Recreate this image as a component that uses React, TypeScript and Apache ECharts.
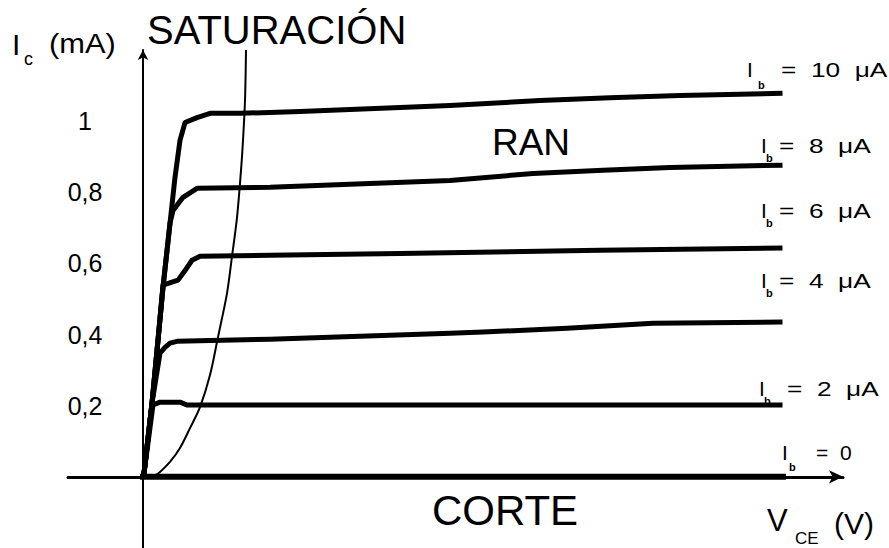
import React, { useEffect, useRef } from "react";
import * as echarts from "echarts";

// Characteristic curves I_C (mA) vs V_CE (arbitrary volt units)
const ib10: [number, number][] = [
  [0.1, 0.01], [0.9, 0.207], [1.5, 0.384], [2.0, 0.533], [2.7, 0.713], [3.2, 0.842],
  [3.7, 0.946], [4.2, 0.996], [5.4, 1.01], [6.7, 1.022], [9.7, 1.022], [15.7, 1.027],
  [30.7, 1.044], [39.7, 1.058], [46.7, 1.066], [53.7, 1.072], [63.7, 1.078],
];
const ib8: [number, number][] = [
  [0.1, 0.01], [0.9, 0.207], [1.5, 0.384], [2.0, 0.533], [2.7, 0.713], [3.0, 0.749],
  [4.0, 0.786], [5.4, 0.811], [12.7, 0.814], [30.7, 0.833], [39.0, 0.853], [46.0, 0.862],
  [52.7, 0.87], [63.7, 0.876],
];
const ib6: [number, number][] = [
  [0.1, 0.01], [0.9, 0.207], [1.5, 0.384], [2.0, 0.539], [3.5, 0.553], [4.2, 0.58],
  [4.9, 0.609], [5.7, 0.62], [12.7, 0.623], [25.7, 0.628], [45.7, 0.637], [63.7, 0.643],
];
const ib4: [number, number][] = [
  [0.1, 0.01], [0.9, 0.207], [1.7, 0.348], [2.2, 0.364], [2.7, 0.376], [3.4, 0.381],
  [12.7, 0.387], [30.7, 0.404], [34.0, 0.407], [42.4, 0.418], [51.0, 0.432], [63.7, 0.435],
];
const ib2: [number, number][] = [
  [0.1, 0.01], [1.0, 0.202], [1.7, 0.21], [3.7, 0.21], [4.4, 0.202], [63.7, 0.202],
];
const ib0: [number, number][] = [
  [0, 0], [64.0, 0],
];
const saturation: [number, number][] = [
  [1.0, 0.0], [1.7, 0.014], [2.7, 0.042], [3.7, 0.081], [4.7, 0.137], [5.7, 0.196],
  [6.7, 0.286], [7.5, 0.393], [8.4, 0.516], [8.9, 0.62], [9.4, 0.729], [9.8, 0.861],
  [10.0, 0.946], [10.2, 1.058], [10.3, 1.2],
];

const curves = [ib10, ib8, ib6, ib4, ib2, ib0];
const ibLabels = ["=  10  μA", "=  8  μA", "=  6  μA", "=  4  μA", "=  2  μA", "=  0"];
const regionLabels = ["SATURACIÓN", "RAN", "CORTE"];

const FONT = "'Liberation Sans', Arial, Helvetica, sans-serif";

export default function App() {
  const ref = useRef<HTMLDivElement>(null);
  useEffect(() => {
    if (!ref.current) return;
    const chart = echarts.init(ref.current, null, { renderer: "svg" });

    // label anchor positions (layout only)
    const ibPos = [
      { ix: 747, iy: 69, sx: 758, sy: 85, tx: 781, ty: 69 },
      { ix: 761, iy: 145, sx: 766, sy: 158, tx: 779, ty: 145 },
      { ix: 761, iy: 210, sx: 766, sy: 223, tx: 779, ty: 210 },
      { ix: 761, iy: 280, sx: 766, sy: 293, tx: 779, ty: 280 },
      { ix: 759, iy: 388, sx: 764, sy: 401, tx: 787, ty: 388 },
      { ix: 782, iy: 452, sx: 789, sy: 467, tx: 816, ty: 452 },
    ];

    const graphics: any[] = [];
    ibPos.forEach((p, i) => {
      graphics.push({
        type: "text", x: p.ix, y: p.iy, silent: true,
        style: { text: "I", fontSize: 21, fontFamily: FONT, fill: "#000", textAlign: "left", textVerticalAlign: "middle" },
      });
      graphics.push({
        type: "text", x: p.sx, y: p.sy, silent: true,
        style: { text: "b", fontSize: 11, fontWeight: "bold", fontFamily: FONT, fill: "#000", textAlign: "left", textVerticalAlign: "middle" },
      });
      graphics.push({
        type: "text", x: p.tx, y: p.ty, scaleX: i === 5 ? 1.0 : 1.25, silent: true,
        style: { text: ibLabels[i], fontSize: 21, fontFamily: FONT, fill: "#000", textAlign: "left", textVerticalAlign: "middle" },
      });
    });

    graphics.push(
      { type: "text", x: 147, y: 30, silent: true,
        style: { text: regionLabels[0], fontSize: 40, fontFamily: FONT, fill: "#000", textAlign: "left", textVerticalAlign: "middle" } },
      { type: "text", x: 531, y: 142, silent: true,
        style: { text: regionLabels[1], fontSize: 37, fontFamily: FONT, fill: "#000", textAlign: "center", textVerticalAlign: "middle" } },
      { type: "text", x: 505, y: 510, silent: true,
        style: { text: regionLabels[2], fontSize: 42, fontFamily: FONT, fill: "#000", textAlign: "center", textVerticalAlign: "middle" } },
      // I_C (mA)
      { type: "text", x: 12, y: 44, silent: true,
        style: { text: "I", fontSize: 30, fontFamily: FONT, fill: "#000", textAlign: "left", textVerticalAlign: "middle" } },
      { type: "text", x: 24, y: 59, silent: true,
        style: { text: "c", fontSize: 18, fontFamily: FONT, fill: "#000", textAlign: "left", textVerticalAlign: "middle" } },
      { type: "text", x: 49, y: 43, scaleX: 1.1, silent: true,
        style: { text: "(mA)", fontSize: 28, fontFamily: FONT, fill: "#000", textAlign: "left", textVerticalAlign: "middle" } },
      // V_CE (V)
      { type: "text", x: 767, y: 520, silent: true,
        style: { text: "V", fontSize: 31, fontFamily: FONT, fill: "#000", textAlign: "left", textVerticalAlign: "middle" } },
      { type: "text", x: 795, y: 538, silent: true,
        style: { text: "CE", fontSize: 17, fontFamily: FONT, fill: "#000", textAlign: "left", textVerticalAlign: "middle" } },
      { type: "text", x: 834, y: 523, silent: true,
        style: { text: "(V)", fontSize: 30, fontFamily: FONT, fill: "#000", textAlign: "left", textVerticalAlign: "middle" } },
    );

    const series: any[] = curves.map((d, i) => ({
      type: "line",
      name: "Ib" + i,
      data: d,
      showSymbol: false,
      symbol: "none",
      silent: true,
      lineStyle: { color: "#000", width: i === 5 ? 6 : 5, cap: "square", join: "round" },
      z: 3,
    }));
    series.push({
      type: "line",
      name: "sat",
      data: saturation,
      showSymbol: false,
      symbol: "none",
      smooth: 0.3,
      silent: true,
      lineStyle: { color: "#000", width: 2 },
      z: 4,
    });

    chart.setOption({
      animation: false,
      backgroundColor: "#fff",
      grid: { left: 68, right: 46, top: 50, bottom: 0, containLabel: false, outerBoundsMode: "none" },
      xAxis: {
        type: "value",
        min: -7.5,
        max: 70,
        axisLine: {
          show: true,
          onZero: true,
          symbol: ["none", "arrow"],
          symbolSize: [10, 14],
          lineStyle: { color: "#000", width: 3 },
        },
        axisTick: { show: false },
        axisLabel: { show: false },
        splitLine: { show: false },
      },
      yAxis: {
        type: "value",
        min: -0.2,
        max: 1.2,
        interval: 0.2,
        axisLine: {
          show: true,
          onZero: true,
          symbol: ["none", "arrow"],
          symbolSize: [8, 10],
          lineStyle: { color: "#000", width: 2 },
        },
        axisTick: { show: false },
        splitLine: { show: false },
        axisLabel: {
          margin: -39,
          fontSize: 25,
          fontFamily: FONT,
          color: "#000",
          formatter: (v: number) =>
            v > 0.05 && v < 1.1 ? "{a|" + String(Math.round(v * 10) / 10).replace(".", ",") + "}" : "",
          rich: {
            a: { width: 44, align: "center", fontSize: 25, fontFamily: FONT, color: "#000" },
          },
        },
      },
      series,
      graphic: graphics,
    });
    return () => chart.dispose();
  }, []);
  return (
    <div
      ref={ref}
      style={{ position: "fixed", left: 0, top: 0, width: 889, height: 548, background: "#fff" }}
    />
  );
}
